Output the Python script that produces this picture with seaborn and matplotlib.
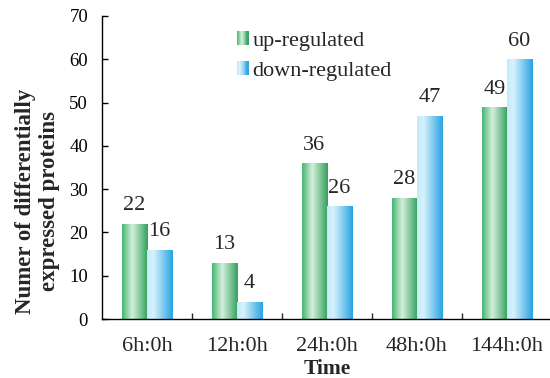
import numpy as np
import pandas as pd
import matplotlib
matplotlib.use("Agg")
import matplotlib.pyplot as plt
import seaborn as sns
from matplotlib.colors import LinearSegmentedColormap
from matplotlib.legend_handler import HandlerBase
from matplotlib.patches import Rectangle

categories = ["6h:0h", "12h:0h", "24h:0h", "48h:0h", "144h:0h"]
up_regulated = [22, 13, 36, 28, 49]
down_regulated = [16, 4, 26, 47, 60]
series_names = ["up-regulated", "down-regulated"]
y_ticks = [0, 10, 20, 30, 40, 50, 60, 70]

df = pd.DataFrame({
    "Time": categories * 2,
    "value": up_regulated + down_regulated,
    "series": [series_names[0]] * len(categories) + [series_names[1]] * len(categories),
})

sns.set_theme(style="ticks")
plt.rcParams["font.family"] = ["Liberation Serif", "DejaVu Serif"]

green_cmap = LinearSegmentedColormap.from_list(
    "g", [(0, "#46b571"), (0.4, "#d4f0db"), (1.0, "#30a05b")])
blue_cmap = LinearSegmentedColormap.from_list(
    "b", [(0, "#c4e9fa"), (0.25, "#d8f2fd"), (1.0, "#27a2e3")])
cmaps = {series_names[0]: green_cmap, series_names[1]: blue_cmap}
mid = {series_names[0]: "#7fcd98", series_names[1]: "#7cc9f0"}

fig = plt.figure(figsize=(5.5, 3.78), dpi=100)
ax = fig.add_axes([102 / 550, 1 - 319 / 378, 450 / 550, 303 / 378])

sns.barplot(data=df, x="Time", y="value", hue="series", order=categories,
            hue_order=series_names, palette=mid, width=0.56, gap=0,
            ax=ax, legend=False, saturation=1)

grad = np.linspace(0, 1, 256).reshape(1, -1)
for cont, name in zip(ax.containers, series_names):
    for p in cont:
        x, w, h = p.get_x(), p.get_width(), p.get_height()
        im = ax.imshow(grad, cmap=cmaps[name], extent=(x, x + w, 0, h),
                       aspect="auto", zorder=p.get_zorder() + 0.1,
                       interpolation="bilinear")
        im.set_clip_path(p)
    ax.bar_label(cont, labels=[f"{int(v)}" for v in cont.datavalues],
                 padding=6, fontsize=16)

ax.set_xlim(-0.5, 4.5)
ax.set_ylim(0, 70)
ax.set_yticks(y_ticks)
ax.tick_params(axis="y", direction="in", length=4, width=1, pad=10,
               labelsize=13.5, colors="black")
ax.set_xticks(range(len(categories)))
ax.set_xticklabels(categories)
ax.set_xticks([0.5, 1.5, 2.5, 3.5], minor=True)
ax.tick_params(axis="x", which="major", length=0, pad=13, labelsize=16)
ax.tick_params(axis="x", which="minor", direction="in", length=4, width=1)
for s in ["top", "right"]:
    ax.spines[s].set_visible(False)
for s in ["left", "bottom"]:
    ax.spines[s].set_color("black")
    ax.spines[s].set_linewidth(1)

ax.set_xlabel("Time", fontsize=15.5, fontweight="bold", labelpad=2)
ax.set_ylabel("Numer of differentially\nexpressed proteins", fontsize=16.5,
              fontweight="bold", linespacing=1.2)
ax.yaxis.set_label_coords(-0.093, 0.39)


class GradHandler(HandlerBase):
    def __init__(self, cmap):
        super().__init__()
        self.cmap = cmap

    def create_artists(self, legend, orig_handle, xdescent, ydescent, width,
                       height, fontsize, trans):
        n = 12
        arts = []
        for i in range(n):
            r = Rectangle((-xdescent + width * i / n, -ydescent), width / n + 0.3,
                          height, facecolor=self.cmap((i + 0.5) / n),
                          edgecolor="none", transform=trans)
            arts.append(r)
        return arts


handles = [Rectangle((0, 0), 1, 1, facecolor=mid[n]) for n in series_names]
leg = ax.legend(handles, series_names, loc="upper left",
                bbox_to_anchor=(226 / 550, 1 - 20 / 378),
                bbox_transform=fig.transFigure, frameon=False, fontsize=16,
                handlelength=0.5, handleheight=0.6, handletextpad=0.2,
                labelspacing=0.45, borderpad=0,
                handler_map={handles[0]: GradHandler(green_cmap),
                             handles[1]: GradHandler(blue_cmap)})

fig.savefig("out.png", dpi=100)
